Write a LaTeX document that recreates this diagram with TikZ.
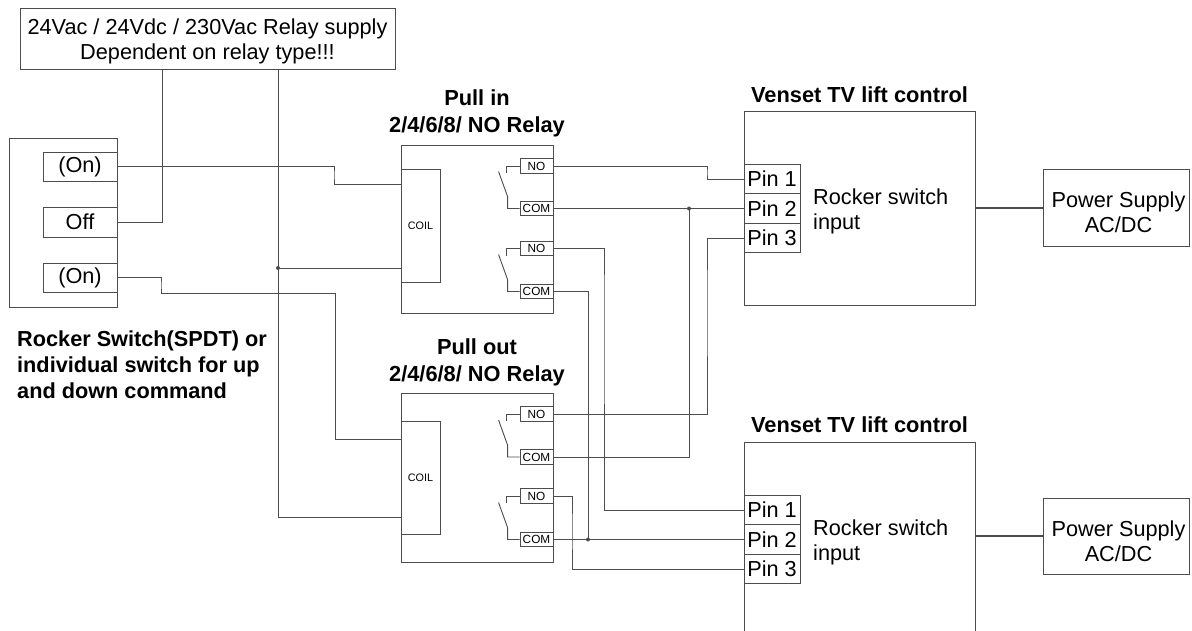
\documentclass[tikz,border=0pt]{standalone}
\usepackage{fontspec}
\setmainfont{Liberation Sans}
\usepackage{tikz}
\definecolor{wiregray}{rgb}{0.3,0.3,0.3}

\begin{document}
\begin{tikzpicture}[x=1pt, y=-1pt,
        every node/.style={font=\fontsize{21.7}{25}\selectfont},
        box/.style={draw=wiregray, line width=0.9pt, inner sep=0pt},
        wire/.style={draw=wiregray, line width=0.9pt},
        title/.style={font=\fontsize{21.8}{27}\selectfont\bfseries, align=center, inner sep=0pt},
        tiny/.style={box, font=\fontsize{11.8}{12}\selectfont, minimum width=33, minimum height=14.5},
        pin/.style={box, minimum width=56, minimum height=29.5}]
        \useasboundingbox (0, 0) rectangle (1192, 630);
        \clip (0, 0) rectangle (1192, 630);
        % relay supply
        \draw (207.5, 38.5) node(sup)[box, minimum width=375, minimum height=61]{};
        \draw (207.5, 41.5) node(supt)[align=center, inner sep=0pt]{24Vac / 24Vdc / 230Vac Relay supply\\Dependent on relay type!!!};
        % rocker switch
        \draw (63, 222.5) node(sw)[box, minimum width=108, minimum height=169]{};
        \draw (80, 166.5) node(on1)[box, minimum width=74, minimum height=29]{(On)};
        \draw (80, 222) node(off)[box, minimum width=74, minimum height=30]{Off};
        \draw (80, 277.5) node(on2)[box, minimum width=74, minimum height=29]{(On)};
        \draw (17, 365) node(swt)[anchor=west, align=left, inner sep=0pt, font=\fontsize{21.7}{26}\selectfont\bfseries]{Rocker Switch(SPDT) or\\individual switch for up\\and down command};
        % pull in relay
        \draw (477, 229) node(r1)[box, minimum width=152, minimum height=168]{};
        \draw (420.5, 225.5) node(coil1)[box, minimum width=39, minimum height=113, font=\fontsize{10.8}{11}\selectfont]{COIL};
        \draw (536.5, 166) node(no1a)[tiny]{NO};
        \draw (536.5, 208.5) node(com1a)[tiny]{COM};
        \draw (536.5, 248.5) node(no1b)[tiny]{NO};
        \draw (536.5, 291.5) node(com1b)[tiny]{COM};
        \draw (477, 113) node(r1t)[title]{Pull in\\2/4/6/8/ NO Relay};
        \draw[wire] (no1a.west) -- ++(-13, 0) -- ++(0, 7);
        \draw[wire] (com1a.west) -- ++(-12, 0) -- ++(0, -12) -- ++(-9, -25);
        \draw[wire] (no1b.west) -- ++(-13, 0) -- ++(0, 7);
        \draw[wire] (com1b.west) -- ++(-12, 0) -- ++(0, -12) -- ++(-9, -25);
        % pull out relay
        \draw (477, 477.5) node(r2)[box, minimum width=152, minimum height=169]{};
        \draw (420.5, 477.5) node(coil2)[box, minimum width=39, minimum height=113, font=\fontsize{10.8}{11}\selectfont]{COIL};
        \draw (536.5, 414) node(no2a)[tiny]{NO};
        \draw (536.5, 457) node(com2a)[tiny]{COM};
        \draw (536.5, 496) node(no2b)[tiny]{NO};
        \draw (536.5, 539.5) node(com2b)[tiny]{COM};
        \draw (477, 362) node(r2t)[title]{Pull out\\2/4/6/8/ NO Relay};
        \draw[wire] (no2a.west) -- ++(-13, 0) -- ++(0, 7);
        \draw[wire] (com2a.west) -- ++(-12, 0) -- ++(0, -12) -- ++(-9, -25);
        \draw[wire] (no2b.west) -- ++(-13, 0) -- ++(0, 7);
        \draw[wire] (com2b.west) -- ++(-12, 0) -- ++(0, -12) -- ++(-9, -25);
        % venset lift controls
        \draw (859.5, 208) node(v1)[box, minimum width=231, minimum height=194]{};
        \draw (772, 179) node(p11)[pin]{Pin 1};
        \draw (772, 208.5) node(p12)[pin]{Pin 2};
        \draw (772, 238) node(p13)[pin]{Pin 3};
        \draw (813, 211.5) node(v1t)[anchor=west, align=left, inner sep=0pt]{Rocker switch\\input};
        \draw (859.5, 95) node(v1h)[title]{Venset TV lift control};
        \draw (859.5, 546) node(v2)[box, minimum width=231, minimum height=208]{};
        \draw (772, 510) node(p21)[pin]{Pin 1};
        \draw (772, 539.5) node(p22)[pin]{Pin 2};
        \draw (772, 569) node(p23)[pin]{Pin 3};
        \draw (813, 542) node(v2t)[anchor=west, align=left, inner sep=0pt]{Rocker switch\\input};
        \draw (859.5, 424.5) node(v2h)[title]{Venset TV lift control};
        % power supplies
        \draw (1116, 207.5) node(ps1)[box, minimum width=146, minimum height=77]{};
        \draw (1118.5, 212) node(ps1t)[align=center, inner sep=0pt]{Power Supply\\AC/DC};
        \draw (1116, 536) node(ps2)[box, minimum width=146, minimum height=76]{};
        \draw (1118.5, 541.5) node(ps2t)[align=center, inner sep=0pt]{Power Supply\\AC/DC};
        \draw[wire, line width=2pt] (v1.east |- ps1.west) -- (ps1.west);
        \draw[wire, line width=2pt] (v2.east |- ps2.west) -- (ps2.west);
        % wiring
        \coordinate (k1a) at (401, 184);
        \coordinate (k1b) at (401, 268);
        \coordinate (k2a) at (401, 439);
        \coordinate (k2b) at (401, 517);
        \coordinate (j0) at (278, 268);
        \coordinate (j1) at (689, 208.5);
        \coordinate (j2) at (588, 539.5);
        \draw[wire] (on1.east) -| (334, 175) |- (k1a);
        \draw[wire] (off.east) -| ([xshift=-45.5pt]sup.south);
        \draw[wire] ([xshift=70.5pt]sup.south) |- (k2b);
        \draw[wire] (j0) -- (k1b);
        \draw[wire] (on2.east) -| (161, 285) |- (335, 293) |- (k2a);
        \draw[wire] (no1a.east) -| (707, 172) |- (p11.west);
        \draw[wire] (com1a.east) -- (p12.west);
        \draw[wire] (no1b.east) -| (604, 300) |- (p21.west);
        \draw[wire] (com1b.east) -| (j2);
        \draw[wire] (no2a.east) -| (707, 300) |- (p13.west);
        \draw[wire] (com2a.east) -| (j1);
        \draw[wire] (no2b.east) -| (572, 530) |- (p23.west);
        \draw[wire] (com2b.east) -- (p22.west);
        \fill[wiregray] (j0) circle (2pt);
        \fill[wiregray] (j1) circle (2pt);
        \fill[wiregray] (j2) circle (2pt);
    \end{tikzpicture}
\end{document}
